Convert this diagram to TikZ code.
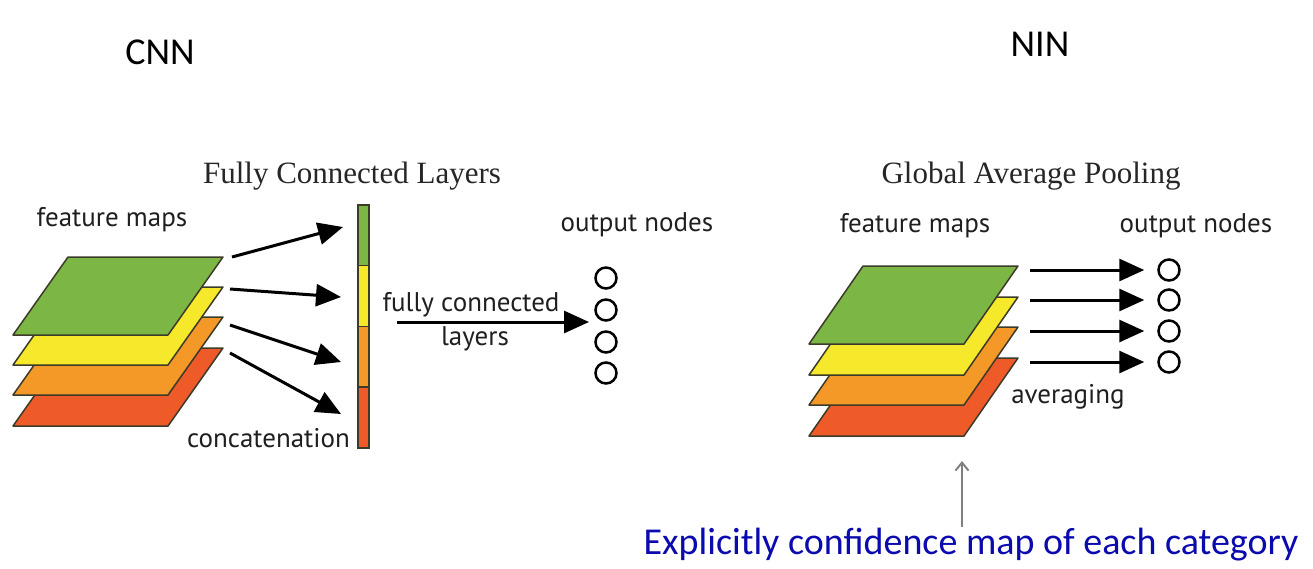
\documentclass[tikz,border=0pt]{standalone}
\usepackage{fontspec}
\setmainfont{Liberation Serif}
\setsansfont{PT Sans}
\newfontfamily\calibri{Carlito}
\usetikzlibrary{arrows.meta, positioning, calc}

\definecolor{mapgreen}{RGB}{124,182,68}
\definecolor{mapyellow}{RGB}{246,232,42}
\definecolor{maporange}{RGB}{244,152,40}
\definecolor{mapred}{RGB}{238,90,40}
\definecolor{mapedge}{RGB}{60,58,40}
\definecolor{notebl}{RGB}{10,10,175}

\tikzset{
  layer/.style={draw=mapedge, line width=1.5pt, line join=round},
  barseg/.style={draw=mapedge, line width=1.5pt, minimum width=11pt, minimum height=60.75pt, inner sep=0pt, anchor=north west},
  lbl/.style={font=\sffamily\fontsize{27}{31}\selectfont, text=black!88, inner sep=0pt},
  head/.style={font=\rmfamily\fontsize{31}{35}\selectfont, text=black!85, inner sep=0pt},
  bigarrow/.style={line width=3pt, -{Triangle[length=25pt,width=22pt]}},
  outnode/.style={circle, draw, line width=2.5pt, minimum size=21pt, inner sep=0pt},
}

\begin{document}
\begin{tikzpicture}[x=1pt,y=-1pt]
\useasboundingbox (0,0) rectangle (1313,568);

% titles
\node[inner sep=0pt] (cnn) at (160,52) {\calibri\fontsize{38}{40}\selectfont CNN};
\node[inner sep=0pt] (nin) at (1040,44) {\calibri\fontsize{38}{40}\selectfont NIN};

% ---- CNN side ----
\node[head] (fctitle) at (352,176) {Fully Connected Layers};
\node[lbl] (fmapsL) at (112,220) {feature maps};
\foreach \col/\yb in {mapred/426, maporange/395, mapyellow/365, mapgreen/335}
  \filldraw[layer, fill=\col] (13,\yb) -- ++(155,0) -- ++(55,-78) -- ++(-155,0) -- cycle;

% concatenated vector
\foreach \col/\yt [count=\i] in {mapgreen/204, mapyellow/264.75, maporange/325.5, mapred/386.25}
  \node[barseg, fill=\col] (seg\i) at (357,\yt) {};
\node[lbl, anchor=east] (concat) at (350,438) {concatenation};

\coordinate (sL1) at (232,257); \coordinate (eL1) at (343,227);
\coordinate (sL2) at (230,289); \coordinate (eL2) at (341,297);
\coordinate (sL3) at (230,325); \coordinate (eL3) at (341,362);
\coordinate (sL4) at (230,353); \coordinate (eL4) at (341,414);
\foreach \i in {1,...,4}
  \draw[bigarrow] (sL\i) -- (eL\i);

% output nodes
\node[lbl] (outL) at (637,225) {output nodes};
\foreach \y [count=\i] in {278,310,342,373}
  \node[outnode] (oL\i) at (606,\y) {};
\coordinate (fcstart) at (397,322);
\coordinate (fcend) at (589,322);
\draw[bigarrow] (fcstart) -- (fcend);
\node[lbl] (fclbl) at (471,305) {fully connected};
\node[lbl] (fclbl2) at (475,339) {layers};

% ---- NIN side ----
\node[head] (gaptitle) at (1031,176) {Global Average Pooling};
\node[lbl] (fmapsR) at (915,226) {feature maps};
\node[lbl] (outR) at (1196,226) {output nodes};
\foreach \col/\yb in {mapred/436, maporange/405, mapyellow/375, mapgreen/344}
  \filldraw[layer, fill=\col] (809,\yb) -- ++(155,0) -- ++(54,-78) -- ++(-155,0) -- cycle;

\foreach \y [count=\i] in {270,300,331,362}{
  \node[outnode] (oR\i) at (1169,\y) {};
  \coordinate (sR\i) at (1030,\y);
  \draw[bigarrow] (sR\i) -- ([xshift=-13pt]oR\i.west);
}
\node[lbl] (avg) at (1068,397) {averaging};

% note
\node[inner sep=0pt, text=notebl] (conf) at (971,545) {\calibri\fontsize{38}{42}\selectfont Explicitly confidence map of each category};
\coordinate (gtip) at (962,461);
\draw[gray, line width=2pt, -{Straight Barb[length=8pt,width=13pt]}] (conf.north -| gtip) ++(0,-1) -- (gtip);
\end{tikzpicture}
\end{document}
